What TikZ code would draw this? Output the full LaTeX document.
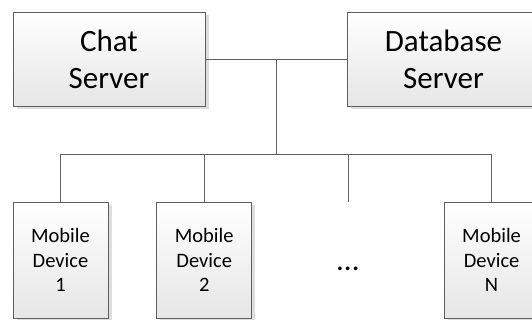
\documentclass[tikz,border=0pt]{standalone}
\usepackage{fontspec}
\setmainfont{Carlito}
\usepackage{xcolor}
\usepackage{tikz}
\usetikzlibrary{positioning,shadows}
\definecolor{linegray}{RGB}{95,95,95}

\begin{document}
\begin{tikzpicture}[x=1pt, y=-1pt, auto]
    % Define styles
    \tikzstyle{server} = [rectangle, minimum width=192pt, minimum height=94pt, inner sep=0pt, align=center, draw=linegray, line width=0.8pt, top color=white, bottom color=black!10, general shadow={fill=black!13, shadow xshift=3.5pt, shadow yshift=-3.5pt}, font=\fontsize{31}{37}\selectfont]
    \tikzstyle{device} = [server, minimum width=95pt, minimum height=116pt, font=\fontsize{20.5}{24.7}\selectfont]
    \tikzstyle{link} = [draw=linegray, line width=0.8pt]

    \clip (0,0) rectangle (532,320);

    % Nodes
    \node[server] (chat) at (109,59) {Chat\\Server};
    \node[server, right of=chat, node distance=334.5pt] (db) {Database\\Server};
    \node[device] (dev1) at (60.5,260) {Mobile\\Device\\1};
    \node[device, right of=dev1, node distance=143.7pt] (dev2) {Mobile\\Device\\2};
    \node[right of=dev2, node distance=143.7pt, yshift=-9pt, font=\fontsize{31}{37}\selectfont] (dots) {...};
    \node[device, right of=dev2, node distance=287.4pt] (devN) {Mobile\\Device\\N};

    % Connections
    \draw[link] (chat) -- coordinate (hub) (db);
    \coordinate[below=95pt of hub] (bus);
    \coordinate (gap) at (dots |- dev1.north);
    \draw[link] (hub) -- (bus);
    \draw[link] (bus) -| (dev1);
    \draw[link] (bus) -| (dev2);
    \draw[link] (bus) -| (gap);
    \draw[link] (bus) -| (devN);
\end{tikzpicture}
\end{document}
